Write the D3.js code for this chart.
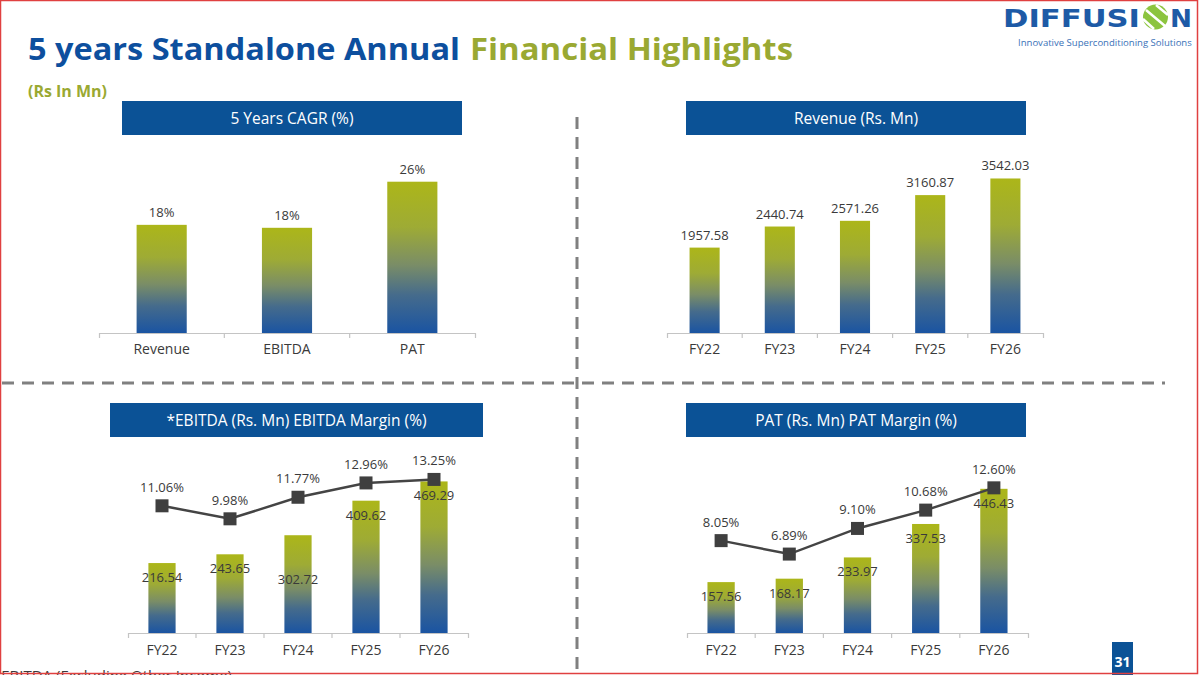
<!DOCTYPE html>
<html>
<head>
	<meta charset="utf-8">
	<title>Financial Highlights</title>
	<script src="https://d3js.org/d3.v7.min.js"></script>
	<style>
		body { margin: 0; background: #fff; }
		svg { display: block; font-family: 'Open Sans', sans-serif; }
	</style>
</head>
<body>
	<div class="chart"></div>

	<script type="text/javascript">
		const cagrCategories = ['Revenue', 'EBITDA', 'PAT']
		const cagrValues = [18.3, 17.8, 25.6]

		const years = ['FY22', 'FY23', 'FY24', 'FY25', 'FY26']
		const revenueValues = [1957.58, 2440.74, 2571.26, 3160.87, 3542.03]
		const ebitdaValues = [216.54, 243.65, 302.72, 409.62, 469.29]
		const ebitdaMargin = [11.06, 9.98, 11.77, 12.96, 13.25]
		const patValues = [157.56, 168.17, 233.97, 337.53, 446.43]
		const patMargin = [8.05, 6.89, 9.10, 10.68, 12.60]

		const width = 1200
		const height = 675
		const blue = '#0b5296'
		const olive = '#9aa932'
		const textColor = '#3a3a3a'

		const svg = d3.select('.chart').append('svg')
			.attr('width', width)
			.attr('height', height)

		// 渐变
		const grad = svg.append('defs').append('linearGradient')
			.attr('id', 'barGrad')
			.attr('x1', 0).attr('y1', 0).attr('x2', 0).attr('y2', 1)
		grad.append('stop').attr('offset', '0%').attr('stop-color', '#acb619')
		grad.append('stop').attr('offset', '30%').attr('stop-color', '#9eab35')
		grad.append('stop').attr('offset', '55%').attr('stop-color', '#7a8d67')
		grad.append('stop').attr('offset', '75%').attr('stop-color', '#456b8c')
		grad.append('stop').attr('offset', '100%').attr('stop-color', '#1a54a2')

		// 标题
		svg.append('text')
			.attr('x', 28).attr('y', 60)
			.attr('font-size', 30).attr('font-weight', 700)
			.attr('fill', '#0d4f9e')
			.attr('textLength', 432).attr('lengthAdjust', 'spacingAndGlyphs')
			.text('5 years Standalone Annual')
		svg.append('text')
			.attr('x', 470).attr('y', 60)
			.attr('font-size', 30).attr('font-weight', 700)
			.attr('fill', olive)
			.attr('textLength', 323).attr('lengthAdjust', 'spacingAndGlyphs')
			.text('Financial Highlights')
		svg.append('text')
			.attr('x', 28).attr('y', 97)
			.attr('font-size', 15.5).attr('font-weight', 700)
			.attr('fill', olive)
			.attr('textLength', 79).attr('lengthAdjust', 'spacingAndGlyphs')
			.text('(Rs In Mn)')

		// logo
		const logo = svg.append('g')
		logo.append('text')
			.attr('x', 1003).attr('y', 27)
			.attr('font-family', 'DejaVu Sans').attr('font-size', 25).attr('font-weight', 700)
			.attr('fill', '#1d5aa6')
			.attr('textLength', 137).attr('lengthAdjust', 'spacingAndGlyphs')
			.text('DIFFUSI')
		logo.append('circle')
			.attr('cx', 1155.5).attr('cy', 17).attr('r', 12.5)
			.attr('fill', '#8cc43f')
		logo.append('path')
			.attr('d', 'M1146,10 L1165,26 M1143,19 L1154,29 M1156,5 L1168,15')
			.attr('stroke', '#fff').attr('stroke-width', 2.5)
		logo.append('text')
			.attr('x', 1170).attr('y', 27)
			.attr('font-family', 'DejaVu Sans').attr('font-size', 25).attr('font-weight', 700)
			.attr('fill', '#1d5aa6')
			.attr('textLength', 22).attr('lengthAdjust', 'spacingAndGlyphs')
			.text('N')
		const tagline = logo.append('text')
			.attr('x', 1018).attr('y', 46)
			.attr('font-size', 11)
			.attr('fill', '#3a72b8')
			.text('Innovative Superconditioning Solutions')
		const tagLen = tagline.node().getComputedTextLength()
		tagline.attr('font-size', 11 * 174 / tagLen)

		// 虚线分隔
		svg.append('line')
			.attr('x1', 577).attr('y1', 117).attr('x2', 577).attr('y2', 675)
			.attr('stroke', '#808080').attr('stroke-width', 3).attr('stroke-dasharray', '12 8')
		svg.append('line')
			.attr('x1', 2).attr('y1', 383).attr('x2', 1165).attr('y2', 383)
			.attr('stroke', '#808080').attr('stroke-width', 3).attr('stroke-dasharray', '12 8')

		function header(x0, x1, y, label) {
			svg.append('rect')
				.attr('x', x0).attr('y', y)
				.attr('width', x1 - x0).attr('height', 34)
				.attr('fill', blue)
			svg.append('text')
				.attr('x', (x0 + x1) / 2).attr('y', y + 22.5)
				.attr('text-anchor', 'middle')
				.attr('font-size', 15.5)
				.attr('fill', '#fff')
				.text(label)
		}

		header(122, 462, 101, '5 Years CAGR (%)')
		header(686, 1026, 101, 'Revenue (Rs. Mn)')
		header(110, 483, 403, '*EBITDA (Rs. Mn) EBITDA Margin (%)')
		header(686, 1026, 403, 'PAT (Rs. Mn) PAT Margin (%)')

		function panel(opt) {
			const g = svg.append('g')

			const xScale = d3.scaleBand()
				.domain(opt.categories)
				.range(opt.xRange)
				.paddingInner(0.6)
				.paddingOuter(0.3)

			const yScale = d3.scaleLinear()
				.domain(opt.yDomain)
				.range(opt.yRange)

			const data = opt.categories.map((c, i) => ({ cat: c, value: opt.values[i] }))

			g.selectAll('.bar')
				.data(data)
				.join('rect')
				.attr('class', 'bar')
				.attr('x', d => xScale(d.cat))
				.attr('y', d => yScale(d.value))
				.attr('width', xScale.bandwidth())
				.attr('height', d => yScale(0) - yScale(d.value))
				.attr('fill', 'url(#barGrad)')

			// 坐标轴
			const axis = g.append('g')
				.attr('transform', `translate(0, ${yScale(0)})`)
				.call(d3.axisBottom(xScale).tickSizeInner(0).tickSizeOuter(5).tickPadding(opt.tickPadding))
			axis.select('.domain').attr('stroke', '#c4c4c4').attr('stroke-width', 1.2)
			axis.selectAll('text')
				.attr('font-family', "'Open Sans', sans-serif")
				.attr('font-size', 14)
				.attr('fill', textColor)
			axis.selectAll('.sep')
				.data(opt.categories.slice(1))
				.join('line')
				.attr('class', 'sep')
				.attr('x1', d => xScale(d) - xScale.step() * xScale.paddingInner() / 2)
				.attr('x2', d => xScale(d) - xScale.step() * xScale.paddingInner() / 2)
				.attr('y1', 0).attr('y2', 5)
				.attr('stroke', '#c4c4c4').attr('stroke-width', 1.2)

			// 数值标签
			g.selectAll('.val')
				.data(data)
				.join('text')
				.attr('class', 'val')
				.attr('x', d => xScale(d.cat) + xScale.bandwidth() / 2)
				.attr('y', d => yScale(d.value) + (opt.inside ? 19 + (opt.nudge[d.cat] || 0) : -8))
				.attr('text-anchor', 'middle')
				.attr('font-size', 13)
				.attr('fill', textColor)
				.text(d => opt.format(d.value))

			if (!opt.line) return

			const y2 = d3.scaleLinear()
				.domain(opt.lineDomain)
				.range(opt.lineRange)

			const points = opt.categories.map((c, i) => ({ cat: c, value: opt.line[i] }))
			const cx = d => xScale(d.cat) + xScale.bandwidth() / 2

			const line = d3.line()
				.x(cx)
				.y(d => y2(d.value))

			g.append('path')
				.attr('d', line(points))
				.attr('fill', 'none')
				.attr('stroke', '#444')
				.attr('stroke-width', 2.5)

			g.selectAll('.mark')
				.data(points)
				.join('rect')
				.attr('class', 'mark')
				.attr('x', d => cx(d) - 6.5)
				.attr('y', d => y2(d.value) - 6.5)
				.attr('width', 13).attr('height', 13)
				.attr('fill', '#3f3f3f')

			g.selectAll('.pct')
				.data(points)
				.join('text')
				.attr('class', 'pct')
				.attr('x', cx)
				.attr('y', d => y2(d.value) - 14)
				.attr('text-anchor', 'middle')
				.attr('font-size', 13)
				.attr('fill', textColor)
				.text(d => d3.format('.2f')(d.value) + '%')
		}

		panel({
			categories: cagrCategories, values: cagrValues,
			xRange: [99, 475], yDomain: [0, 30], yRange: [333, 155.7],
			tickPadding: 11, format: v => d3.format('.0f')(v) + '%'
		})

		panel({
			categories: years, values: revenueValues,
			xRange: [667, 1043], yDomain: [0, 4000], yRange: [333, 158.5],
			tickPadding: 11, format: d3.format('.2f')
		})

		panel({
			categories: years, values: ebitdaValues,
			xRange: [128, 468], yDomain: [0, 500], yRange: [633, 471.5],
			tickPadding: 12, format: d3.format('.2f'),
			inside: true, nudge: { FY24: 30 },
			line: ebitdaMargin, lineDomain: [0, 14], lineRange: [639, 470.4]
		})

		panel({
			categories: years, values: patValues,
			xRange: [687, 1028], yDomain: [0, 500], yRange: [633, 471.5],
			tickPadding: 12, format: d3.format('.2f'),
			inside: true, nudge: {},
			line: patMargin, lineDomain: [0, 14], lineRange: [634, 471.6]
		})

		// 脚注
		svg.append('text')
			.attr('x', -7).attr('y', 681)
			.attr('font-size', 15)
			.attr('fill', textColor)
			.text('*EBITDA (Excluding Other Income)')

		// 页码
		svg.append('rect')
			.attr('x', 1112).attr('y', 642)
			.attr('width', 21).attr('height', 33)
			.attr('fill', blue)
		svg.append('text')
			.attr('x', 1122.5).attr('y', 667)
			.attr('text-anchor', 'middle')
			.attr('font-size', 14).attr('font-weight', 700)
			.attr('fill', '#fff')
			.text('31')

		// 边框
		svg.append('rect')
			.attr('x', 0.5).attr('y', 0.5)
			.attr('width', 1197).attr('height', 673)
			.attr('fill', 'none')
			.attr('stroke', '#e04040').attr('stroke-width', 1.5)
	</script>
</body>
</html>
